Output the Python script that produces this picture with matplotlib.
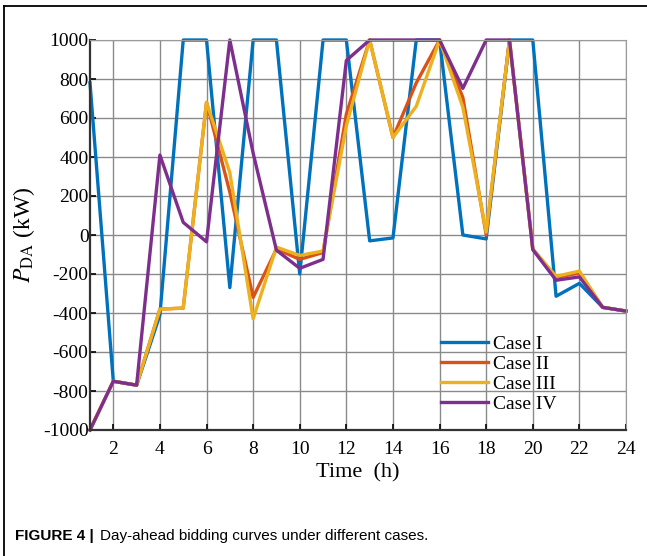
import matplotlib
matplotlib.use("Agg")
import matplotlib.pyplot as plt
from matplotlib.lines import Line2D

hours = list(range(1, 25))
case1 = [780, -750, -770, -410, 1000, 1000, -270, 1000, 1000, -200, 1000, 1000,
         -30, -15, 1000, 1000, 0, -20, 1000, 1000, -314, -248, -371, -390]
case2 = [-1000, -750, -770, -380, -375, 680, 220, -320, -72, -125, -90, 620,
         1000, 500, 780, 1000, 705, 0, 1000, -72, -218, -195, -371, -390]
case3 = [-1000, -750, -770, -380, -375, 680, 320, -430, -62, -105, -82, 560,
         1000, 500, 660, 1000, 655, 15, 1000, -72, -212, -185, -371, -390]
case4 = [-1000, -750, -770, 410, 65, -35, 1000, 420, -78, -171, -125, 895,
         1000, 1000, 1000, 1000, 752, 1000, 1000, -75, -232, -215, -371, -390]
labels = ["Case I", "Case II", "Case III", "Case IV"]
colors = ["#0072BD", "#D95319", "#EDB120", "#7E2F8E"]

plt.rcParams["font.family"] = "Liberation Serif"
plt.rcParams["mathtext.fontset"] = "stix"
plt.rcParams["axes.unicode_minus"] = False

fig = plt.figure(figsize=(6.47, 5.56), dpi=100)
ax = fig.add_axes([90 / 647, 1 - 430 / 556, 536 / 647, 390 / 556])

for vals, lab, col in zip([case1, case2, case3, case4], labels, colors):
    ax.plot(hours, vals, color=col, linewidth=2.4, label=lab, clip_on=False)

ax.set_xlim(1, 24)
ax.set_ylim(-1000, 1000)
ax.set_xticks(range(2, 25, 2))
ax.set_yticks(range(-1000, 1001, 200))
ax.grid(True, color="#8a8a8a", linewidth=1.0)
ax.tick_params(direction="in", labelsize=14, length=4, width=1.2)
ax.tick_params(axis="x", pad=8)
ax.tick_params(axis="y", pad=1)
for s in ["top", "right"]:
    ax.spines[s].set_color("#9a9a9a")
for s in ["left", "bottom"]:
    ax.spines[s].set_linewidth(1.6)
    ax.spines[s].set_color("#333333")

ax.set_xlabel("Time  (h)", fontsize=16, labelpad=4)
ax.set_ylabel(r"$P_{\rm DA}$ (kW)", fontsize=17, labelpad=4)

ax.legend(loc="upper left", bbox_to_anchor=(0.655, 0.243), frameon=False,
          fontsize=14, handlelength=2.4, handletextpad=0.25, labelspacing=0.13,
          borderpad=0.0, borderaxespad=0.0)

fig.add_artist(Line2D([4 / 647, 1], [1 - 6 / 556, 1 - 6 / 556], color="black", linewidth=1.3))
fig.add_artist(Line2D([4 / 647, 4 / 647], [0, 1 - 6 / 556], color="black", linewidth=1.3))

fig.text(15 / 647, 1 - 536 / 556, "FIGURE 4 |", fontsize=11, fontweight="bold",
         family="Liberation Sans", va="center")
fig.text(100 / 647, 1 - 536 / 556, "Day-ahead bidding curves under different cases.",
         fontsize=11, family="Liberation Sans", va="center")

fig.savefig("out.png", dpi=100)
